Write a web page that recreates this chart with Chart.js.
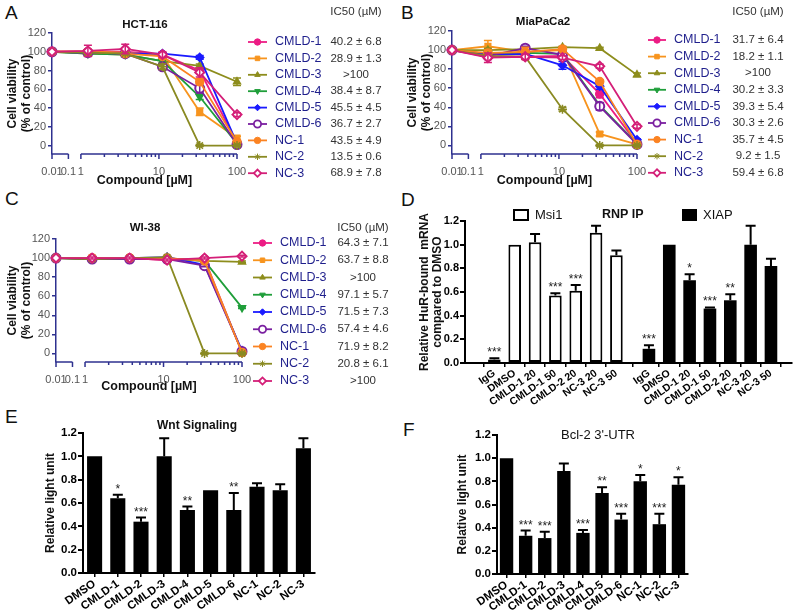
<!DOCTYPE html>
<html>
<head>
<meta charset="utf-8">
<script src="https://cdn.jsdelivr.net/npm/chart.js@4.4.1/dist/chart.umd.min.js"></script>
<style>
  body { margin: 0; background: #fff; width: 800px; height: 613px; position: relative; overflow: hidden; font-family: 'Liberation Sans', Arial, sans-serif; }
  canvas { position: absolute; }
  .letter { position: absolute; font-size: 19px; line-height: 1; color: #111; }
</style>
</head>
<body>
<div class="letter" style="left:5px;top:3px">A</div>
<div class="letter" style="left:401px;top:3px">B</div>
<div class="letter" style="left:5px;top:189px">C</div>
<div class="letter" style="left:401px;top:190px">D</div>
<div class="letter" style="left:5px;top:407px">E</div>
<div class="letter" style="left:403px;top:420px">F</div>
<script>
// ---- data ----
const seriesNames = ['CMLD-1', 'CMLD-2', 'CMLD-3', 'CMLD-4', 'CMLD-5', 'CMLD-6', 'NC-1', 'NC-2', 'NC-3'];
const doses = [0.01, 1.23, 3.7, 11.1, 33.3, 100];   // 0.01 = vehicle control
const xTickValues = [0.01, 0.1, 1, 10, 100];
const xTickLabels = ['0.01', '0.1', '1', '10', '100'];
const minorTickValues = [2, 3, 4, 5, 6, 7, 8, 9, 20, 30, 40, 50, 60, 70, 80, 90];
const viabilityTicks = [0, 20, 40, 60, 80, 100, 120];

const hctValues = [
  [100, 100, 100, 97, 80, 3],
  [100, 100, 99, 96, 36, 8],
  [100, 98, 97, 90, 85, 68],
  [100, 98, 97, 90, 52, 2],
  [100, 99, 98, 98, 94, 2],
  [100, 99, 98, 84, 61, 1],
  [100, 100, 98, 95, 68, 4],
  [100, 99, 98, 84, 0, 0],
  [100, 101, 103, 97, 78, 33]
];
const hctErr = [
  [0, 2, 2, 2, 3, 1], [0, 2, 2, 2, 4, 2], [0, 2, 2, 3, 2, 4], [0, 1, 2, 2, 3, 1], [0, 1, 1, 1, 2, 1],
  [0, 2, 2, 3, 5, 1], [0, 2, 2, 2, 3, 1], [0, 2, 1, 3, 1, 1], [0, 6, 5, 3, 5, 2]
];
const hctIC50 = ['40.2 ± 6.8', '28.9 ± 1.3', '>100', '38.4 ± 8.7', '45.5 ± 4.5', '36.7 ± 2.7', '43.5 ± 4.9', '13.5 ± 0.6', '68.9 ± 7.8'];

const miaValues = [
  [100, 93, 93, 94, 54, 2],
  [100, 104, 98, 100, 12, 1],
  [100, 100, 101, 103, 102, 74],
  [100, 96, 97, 96, 42, 2],
  [100, 95, 96, 84, 62, 6],
  [100, 94, 102, 95, 41, 1],
  [100, 97, 98, 101, 67, 1],
  [100, 94, 93, 38, 0, 0],
  [100, 92, 93, 92, 83, 20]
];
const miaErr = [
  [0, 3, 2, 2, 4, 1], [0, 6, 3, 3, 2, 1], [0, 2, 1, 1, 1, 2], [0, 1, 1, 2, 2, 1], [0, 2, 2, 4, 3, 1],
  [0, 2, 2, 2, 4, 1], [0, 3, 5, 2, 2, 1], [0, 2, 2, 2, 1, 1], [0, 5, 3, 2, 2, 2]
];
const miaIC50 = ['31.7 ± 6.4', '18.2 ± 1.1', '>100', '30.2 ± 3.3', '39.3 ± 5.4', '30.3 ± 2.6', '35.7 ± 4.5', '9.2 ± 1.5', '59.4 ± 6.8'];

const wiValues = [
  [100, 100, 100, 98, 99, 1],
  [100, 100, 100, 99, 98, 1],
  [100, 99, 99, 100, 97, 96],
  [100, 99, 99, 99, 97, 48],
  [100, 100, 100, 101, 93, 3],
  [100, 99, 99, 99, 92, 2],
  [100, 100, 100, 100, 97, 1],
  [100, 99, 100, 101, 0, 0],
  [100, 100, 100, 98, 100, 102]
];
const wiErr = [
  [0, 1, 1, 1, 1, 1], [0, 1, 1, 1, 1, 1], [0, 1, 1, 1, 1, 1], [0, 1, 1, 1, 1, 1], [0, 1, 1, 1, 1, 1],
  [0, 1, 1, 1, 1, 1], [0, 1, 1, 1, 1, 1], [0, 1, 1, 1, 1, 1], [0, 1, 1, 1, 1, 1]
];
const wiIC50 = ['64.3 ± 7.1', '63.7 ± 8.8', '>100', '97.1 ± 5.7', '71.5 ± 7.3', '57.4 ± 4.6', '71.9 ± 8.2', '20.8 ± 6.1', '>100'];

const ripLabels = ['IgG', 'DMSO', 'CMLD-1 20', 'CMLD-1 50', 'CMLD-2 20', 'NC-3 20', 'NC-3 50'];
const msiValues = [0.03, 1.00, 1.02, 0.57, 0.61, 1.10, 0.91];
const msiErr = [0.01, 0, 0.07, 0.02, 0.05, 0.06, 0.04];
const msiSig = ['***', '', '', '***', '***', '', ''];
const xiapValues = [0.12, 1.00, 0.70, 0.46, 0.53, 1.00, 0.82];
const xiapErr = [0.03, 0, 0.05, 0.01, 0.05, 0.16, 0.06];
const xiapSig = ['***', '', '*', '***', '**', '', ''];

const reporterLabels = ['DMSO', 'CMLD-1', 'CMLD-2', 'CMLD-3', 'CMLD-4', 'CMLD-5', 'CMLD-6', 'NC-1', 'NC-2', 'NC-3'];
const wntValues = [1.00, 0.64, 0.44, 1.00, 0.54, 0.71, 0.54, 0.74, 0.71, 1.07];
const wntErr = [0, 0.03, 0.035, 0.155, 0.03, 0, 0.145, 0.03, 0.05, 0.085];
const wntSig = ['', '*', '***', '', '**', '', '**', '', '', ''];
const bclValues = [1.00, 0.33, 0.31, 0.89, 0.355, 0.70, 0.47, 0.80, 0.43, 0.77];
const bclErr = [0, 0.045, 0.055, 0.065, 0.025, 0.05, 0.05, 0.055, 0.09, 0.065];
const bclSig = ['', '***', '***', '', '***', '**', '***', '*', '***', '*'];
const relTicks = [0, 0.2, 0.4, 0.6, 0.8, 1.0, 1.2];

// ---- styles ----
const FAM = "'Liberation Sans', Arial, sans-serif";
Chart.defaults.font.family = FAM;
const AX = '#2e318f';
const LEG = '#1f1f8c';
const seriesColors = ['#ec1c84', '#f7941e', '#8d8d1c', '#1f9e3a', '#1a1aff', '#7a1fa0', '#fb8322', '#8a8a22', '#d41f78'];
const markers = ['circle', 'rect', 'triangle', 'triangle', 'rectRot', 'circle', 'circle', 'star', 'rectRot'];
const markerRot = [0, 0, 0, 180, 0, 0, 0, 0, 0];
const hollow = [false, false, false, false, false, true, false, false, true];

// broken x axis: control and 0.1 sit on a short stub left of the log segment
const CTRL_POS = -0.37, STUB_END = -0.16;
function axisPos(d) {
  if (d >= 1) return Math.log10(d);
  return CTRL_POS + (Math.log10(d) + 2) * (STUB_END - CTRL_POS);
}

function makeCanvas(left, top, w, h) {
  const c = document.createElement('canvas');
  c.width = w; c.height = h;
  c.style.left = left + 'px'; c.style.top = top + 'px';
  c.style.width = w + 'px'; c.style.height = h + 'px';
  document.body.appendChild(c);
  return c;
}
function fixBox(s, prop, v) {
  s[prop] = v;
  s.paddingLeft = s.paddingRight = s.paddingTop = s.paddingBottom = 0;
}

const brokenAxis = {
  id: 'brokenAxis',
  beforeDatasetsDraw(chart) {
    const { ctx, chartArea: a, scales: { x } } = chart;
    const y0 = a.bottom;
    ctx.save();
    ctx.strokeStyle = AX; ctx.lineWidth = 1.5;
    const seg = (v0, v1) => {
      ctx.beginPath();
      ctx.moveTo(x.getPixelForValue(axisPos(v0)), y0);
      ctx.lineTo(x.getPixelForValue(axisPos(v1)), y0);
      ctx.stroke();
    };
    seg(0.01, 0.1); seg(1, 100);
    const tick = (d, len) => {
      const px = x.getPixelForValue(axisPos(d));
      ctx.beginPath(); ctx.moveTo(px, y0); ctx.lineTo(px, y0 + len); ctx.stroke();
    };
    xTickValues.forEach(d => tick(d, 5));
    minorTickValues.forEach(d => tick(d, 3));
    ctx.restore();
  }
};

const lineErr = {
  id: 'lineErr',
  afterDatasetDraw(chart, args) {
    const ds = chart.data.datasets[args.index];
    if (!ds.err) return;
    const ctx = chart.ctx, y = chart.scales.y;
    ctx.save();
    ctx.strokeStyle = ds.borderColor; ctx.lineWidth = 1.5;
    ds.err.forEach((e, j) => {
      if (!e) return;
      const pt = args.meta.data[j];
      const v = ds.data[j].y;
      const y1 = y.getPixelForValue(v + e), y2 = y.getPixelForValue(v - e);
      ctx.beginPath();
      ctx.moveTo(pt.x, y1); ctx.lineTo(pt.x, y2);
      ctx.moveTo(pt.x - 4, y1); ctx.lineTo(pt.x + 4, y1);
      ctx.moveTo(pt.x - 4, y2); ctx.lineTo(pt.x + 4, y2);
      ctx.stroke();
    });
    ctx.restore();
  }
};

const doseLegend = {
  id: 'doseLegend',
  afterDraw(chart, args, o) {
    const ctx = chart.ctx;
    ctx.save();
    ctx.textBaseline = 'middle';
    ctx.fillStyle = '#111'; ctx.textAlign = 'center';
    ctx.font = 'bold 11.5px ' + FAM;
    ctx.fillText(o.title, o.titleX, o.titleY);
    ctx.fillStyle = '#333'; ctx.font = '11.5px ' + FAM;
    ctx.fillText('IC50 (µM)', o.valX, o.headY);
    seriesNames.forEach((name, i) => {
      const y = o.y0 + i * o.dy;
      ctx.strokeStyle = seriesColors[i]; ctx.lineWidth = 1.8;
      ctx.beginPath(); ctx.moveTo(o.lineX0, y); ctx.lineTo(o.lineX1, y); ctx.stroke();
      ctx.fillStyle = hollow[i] ? '#fff' : seriesColors[i];
      ctx.lineWidth = hollow[i] ? 1.8 : 1;
      Chart.helpers.drawPoint(ctx, { pointStyle: markers[i], rotation: markerRot[i], radius: hollow[i] ? 3.6 : 3.2, borderWidth: ctx.lineWidth }, (o.lineX0 + o.lineX1) / 2, y);
      ctx.textAlign = 'left'; ctx.fillStyle = LEG; ctx.font = '12.5px ' + FAM;
      ctx.fillText(name, o.labelX, y);
      ctx.textAlign = 'center'; ctx.fillStyle = '#333'; ctx.font = '11.5px ' + FAM;
      ctx.fillText(o.ic50[i], o.valX, y);
    });
    ctx.restore();
  }
};

function doseChart(c, cfg) {
  const p = cfg.plot, XH = 36;
  return new Chart(c, {
    type: 'line',
    data: {
      datasets: seriesNames.map((name, i) => ({
        label: name,
        data: doses.map((d, j) => ({ x: axisPos(d), y: cfg.values[i][j] })),
        err: cfg.errs[i],
        borderColor: seriesColors[i],
        backgroundColor: seriesColors[i],
        pointBackgroundColor: hollow[i] ? '#fff' : seriesColors[i],
        pointBorderColor: seriesColors[i],
        pointStyle: markers[i],
        pointRotation: markerRot[i],
        pointRadius: hollow[i] ? 4.5 : (markers[i] === 'star' ? 4.5 : 4),
        pointBorderWidth: hollow[i] ? 2 : 1.5,
        borderWidth: 1.8,
        order: seriesNames.length - 1 - i,
        clip: false
      }))
    },
    options: {
      responsive: false, animation: false, devicePixelRatio: 1,
      layout: { padding: { left: 0, top: p.t, right: c.width - p.r, bottom: c.height - p.b - XH } },
      plugins: { legend: { display: false }, tooltip: { enabled: false }, doseLegend: cfg.legend },
      scales: {
        x: {
          type: 'linear', min: CTRL_POS, max: 2,
          afterBuildTicks: s => { s.ticks = xTickValues.map(v => ({ value: axisPos(v) })); },
          afterFit: s => fixBox(s, 'height', XH),
          grid: { display: false }, border: { display: false },
          ticks: { callback: (v, i) => xTickLabels[i], autoSkip: false, maxRotation: 0, color: '#555', font: { size: 11 }, padding: 3 },
          title: { display: true, text: 'Compound [µM]', color: '#111', font: { size: 12.5, weight: 'bold', lineHeight: 1.15 }, padding: { top: 0, bottom: cfg.xTitlePad } }
        },
        y: {
          min: -9, max: 120,
          afterBuildTicks: s => { s.ticks = viabilityTicks.map(v => ({ value: v })); },
          afterFit: s => fixBox(s, 'width', p.l),
          grid: { drawOnChartArea: false, color: AX, lineWidth: 1.5, tickLength: 4 },
          border: { color: AX, width: 1.5 },
          ticks: { color: '#555', font: { size: 11 }, padding: 2 },
          title: { display: true, text: ['Cell viability', '(% of control)'], color: '#111', font: { size: 12, weight: 'bold', lineHeight: 1.2 }, padding: { top: 5 } }
        }
      }
    },
    plugins: [brokenAxis, lineErr, doseLegend]
  });
}

doseChart(makeCanvas(0, 0, 400, 200), {
  plot: { l: 52, t: 33, r: 237, b: 154 }, values: hctValues, errs: hctErr, xTitlePad: 2,
  legend: { title: 'HCT-116', titleX: 145, titleY: 25, ic50: hctIC50, lineX0: 248, lineX1: 267, labelX: 275, valX: 356, headY: 12, y0: 42, dy: 16.4 }
});
doseChart(makeCanvas(400, 0, 400, 200), {
  plot: { l: 52, t: 31, r: 237, b: 154 }, values: miaValues, errs: miaErr, xTitlePad: 2,
  legend: { title: 'MiaPaCa2', titleX: 143, titleY: 22, ic50: miaIC50, lineX0: 248, lineX1: 266, labelX: 274, valX: 358, headY: 12, y0: 40, dy: 16.6 }
});
doseChart(makeCanvas(0, 200, 400, 200), {
  plot: { l: 56, t: 39, r: 242, b: 162 }, values: wiValues, errs: wiErr, xTitlePad: 4,
  legend: { title: 'WI-38', titleX: 145, titleY: 28, ic50: wiIC50, lineX0: 253, lineX1: 272, labelX: 280, valX: 363, headY: 28, y0: 43, dy: 17.25 }
});

// ---- bar panels ----
const barErr = {
  id: 'barErr',
  afterDatasetsDraw(chart) {
    const ctx = chart.ctx, y = chart.scales.y;
    ctx.save();
    ctx.strokeStyle = '#000'; ctx.lineWidth = 2;
    ctx.fillStyle = '#222'; ctx.font = '12px ' + FAM; ctx.textAlign = 'center'; ctx.textBaseline = 'alphabetic';
    chart.data.datasets.forEach((ds, i) => {
      const meta = chart.getDatasetMeta(i);
      meta.data.forEach((bar, j) => {
        const raw = ds.data[j];
        const v = typeof raw === 'object' ? raw.y : raw;
        const e = ds.err[j];
        const top = y.getPixelForValue(v);
        let capY = top;
        if (e > 0) {
          capY = y.getPixelForValue(v + e);
          ctx.beginPath();
          ctx.moveTo(bar.x, top); ctx.lineTo(bar.x, capY);
          ctx.moveTo(bar.x - 5, capY); ctx.lineTo(bar.x + 5, capY);
          ctx.stroke();
        }
        if (ds.sig[j]) ctx.fillText(ds.sig[j], bar.x, capY - 2);
      });
    });
    ctx.restore();
  }
};

function relYAxis(width, titleText, titlePad, tickSize) {
  return {
    min: 0, max: 1.2,
    afterBuildTicks: s => { s.ticks = relTicks.map(v => ({ value: v })); },
    afterFit: s => fixBox(s, 'width', width),
    grid: { drawOnChartArea: false, color: '#000', lineWidth: 2, tickLength: 5 },
    border: { color: '#000', width: 2 },
    ticks: { callback: v => v.toFixed(1), color: '#000', font: { size: tickSize, weight: 'bold' }, padding: 1 },
    title: { display: true, text: titleText, color: '#111', font: { size: 12, weight: 'bold', lineHeight: 1.12 }, padding: { top: titlePad } }
  };
}

const panelTitle = {
  id: 'panelTitle',
  afterDraw(chart, args, o) {
    if (!o.text) return;
    const ctx = chart.ctx;
    ctx.save();
    ctx.fillStyle = '#111'; ctx.textAlign = 'center'; ctx.textBaseline = 'middle';
    ctx.font = o.font;
    ctx.fillText(o.text, o.x, o.y);
    ctx.restore();
  }
};

function reporterChart(c, cfg) {
  const p = cfg.plot, XH = c.height - p.b;
  return new Chart(c, {
    type: 'bar',
    data: {
      labels: reporterLabels,
      datasets: [{ data: cfg.values, err: cfg.err, sig: cfg.sig, backgroundColor: '#000', barPercentage: cfg.barPct, categoryPercentage: 1 }]
    },
    options: {
      responsive: false, animation: false, devicePixelRatio: 1,
      layout: { padding: { left: 0, top: p.t, right: c.width - p.r, bottom: 0 } },
      plugins: { legend: { display: false }, tooltip: { enabled: false }, panelTitle: cfg.title },
      scales: {
        x: {
          afterFit: s => fixBox(s, 'height', XH),
          grid: { drawOnChartArea: false, offset: false, color: '#000', lineWidth: 1.5, tickLength: 4 },
          border: { color: '#000', width: 2 },
          ticks: { color: '#000', font: { size: 11.5, weight: 'bold' }, minRotation: 35, maxRotation: 35, autoSkip: false, padding: 0 }
        },
        y: relYAxis(p.l, 'Relative light unit', cfg.yTitlePad, 11.5)
      }
    },
    plugins: [barErr, panelTitle]
  });
}

reporterChart(makeCanvas(0, 420, 400, 193), {
  plot: { l: 83, t: 13, r: 315, b: 153 }, values: wntValues, err: wntErr, sig: wntSig, barPct: 0.65, yTitlePad: 44,
  title: { text: 'Wnt Signaling', x: 197, y: 6, font: 'bold 12px ' + FAM }
});
reporterChart(makeCanvas(400, 420, 400, 193), {
  plot: { l: 97, t: 15, r: 288, b: 154 }, values: bclValues, err: bclErr, sig: bclSig, barPct: 0.7, yTitlePad: 56,
  title: { text: "Bcl-2 3'-UTR", x: 198, y: 15, font: '13px ' + FAM }
});

// ---- RNP IP panel ----
const GROUP_SHIFT = 7.6;   // second group starts after a gap
const ripLegend = {
  id: 'ripLegend',
  afterDraw(chart) {
    const ctx = chart.ctx;
    ctx.save();
    ctx.textBaseline = 'middle'; ctx.textAlign = 'left';
    ctx.lineWidth = 2; ctx.strokeStyle = '#000';
    ctx.fillStyle = '#fff'; ctx.fillRect(114, 10, 14, 10); ctx.strokeRect(114, 10, 14, 10);
    ctx.fillStyle = '#000'; ctx.fillRect(282, 9, 15, 12);
    ctx.font = '13px ' + FAM; ctx.fillStyle = '#111';
    ctx.fillText('Msi1', 135, 15);
    ctx.fillText('XIAP', 303, 15);
    ctx.font = 'bold 12.5px ' + FAM;
    ctx.fillText('RNP IP', 202, 15);
    ctx.restore();
  }
};

(function () {
  const c = makeCanvas(400, 200, 400, 220);
  const p = { l: 65, t: 21, r: 392, b: 163 }, XH = 57;
  new Chart(c, {
    type: 'bar',
    data: {
      datasets: [
        { label: 'Msi1', data: msiValues.map((v, i) => ({ x: i, y: v })), err: msiErr, sig: msiSig,
          backgroundColor: '#fff', borderColor: '#000', borderWidth: 2, borderSkipped: false, barPercentage: 0.62, categoryPercentage: 1, grouped: false },
        { label: 'XIAP', data: xiapValues.map((v, i) => ({ x: i + GROUP_SHIFT, y: v })), err: xiapErr, sig: xiapSig,
          backgroundColor: '#000', borderColor: '#000', borderWidth: 0, barPercentage: 0.62, categoryPercentage: 1, grouped: false }
      ]
    },
    options: {
      responsive: false, animation: false, devicePixelRatio: 1,
      layout: { padding: { left: 0, top: p.t, right: c.width - p.r, bottom: c.height - p.b - XH } },
      plugins: { legend: { display: false }, tooltip: { enabled: false } },
      scales: {
        x: {
          type: 'linear', min: -0.87, max: 14.06,
          afterBuildTicks: s => {
            s.ticks = ripLabels.map((l, i) => ({ value: i })).concat(ripLabels.map((l, i) => ({ value: i + GROUP_SHIFT })));
          },
          afterFit: s => fixBox(s, 'height', XH),
          grid: { drawOnChartArea: false, color: '#000', lineWidth: 1.5, tickLength: 4 },
          border: { color: '#000', width: 2 },
          ticks: { callback: (v, i) => ripLabels[i % ripLabels.length], color: '#000', font: { size: 10.5, weight: 'bold' }, minRotation: 35, maxRotation: 35, autoSkip: false, padding: 0 }
        },
        y: relYAxis(p.l, ['Relative HuR-bound  mRNA', 'compared to DMSO'], 18, 11)
      }
    },
    plugins: [barErr, ripLegend]
  });
})();
</script>
</body>
</html>
